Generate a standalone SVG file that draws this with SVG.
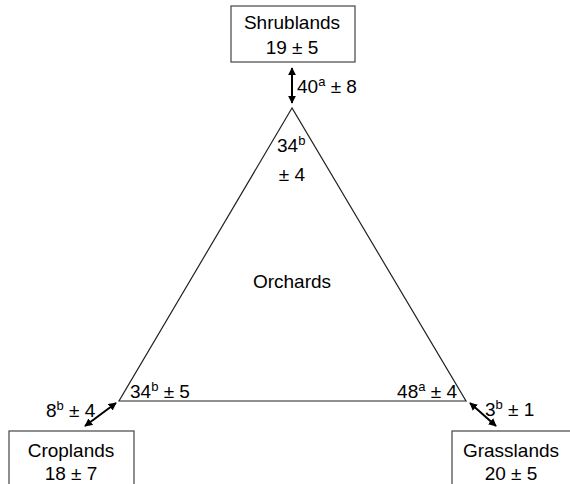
<svg xmlns="http://www.w3.org/2000/svg" width="570" height="484" viewBox="0 0 570 484">
<defs>
<marker id="ah" viewBox="0 0 10 10" refX="9" refY="5" markerWidth="4" markerHeight="4" orient="auto-start-reverse">
<path d="M0,0 L10,5 L0,10 z" fill="#000"/>
</marker>
<style>
text{font-family:"Liberation Sans",Arial,sans-serif;font-size:19px;fill:#000}
.c{text-anchor:middle}
.e{text-anchor:end}
.box{fill:#fff;stroke:#444;stroke-width:1.2}
.arr{stroke:#000;stroke-width:2;fill:none;marker-start:url(#ah);marker-end:url(#ah)}
tspan.s{font-size:13px}
</style>
</defs>
<rect width="570" height="484" fill="#fff"/>
<g id="orchards">
<polygon points="292,108 119,401 466,401" fill="none" stroke="#222" stroke-width="1.2"/>
<text class="c" x="292" y="288">Orchards</text>
<text x="277" y="152">34<tspan class="s" dy="-7">b</tspan></text>
<text class="c" x="292" y="181">± 4</text>
<text x="130" y="398">34<tspan class="s" dy="-7">b</tspan><tspan dy="7"> ± 5</tspan></text>
<text class="e" x="457" y="398">48<tspan class="s" dy="-7">a</tspan><tspan dy="7"> ± 4</tspan></text>
</g>
<g id="shrublands">
<rect class="box" x="231" y="6" width="124" height="56"/>
<text class="c" x="292" y="29">Shrublands</text>
<text class="c" x="292" y="54">19 ± 5</text>
</g>
<g id="croplands">
<rect class="box" x="9" y="431" width="125" height="60"/>
<text class="c" x="71" y="457">Croplands</text>
<text class="c" x="71" y="480">18 ± 7</text>
</g>
<g id="grasslands">
<rect class="box" x="452" y="431" width="125" height="60"/>
<text class="c" x="511" y="457">Grasslands</text>
<text class="c" x="511" y="480">20 ± 5</text>
</g>
<g id="connectors">
<line class="arr" x1="292" y1="68" x2="292" y2="103"/>
<line class="arr" x1="116" y1="403" x2="85" y2="426"/>
<line class="arr" x1="470" y1="403" x2="496" y2="426"/>
<text x="297" y="93">40<tspan class="s" dy="-7">a</tspan><tspan dy="7"> ± 8</tspan></text>
<text x="46" y="417">8<tspan class="s" dy="-7">b</tspan><tspan dy="7"> ± 4</tspan></text>
<text x="485" y="416">3<tspan class="s" dy="-7">b</tspan><tspan dy="7"> ± 1</tspan></text>
</g>
</svg>
